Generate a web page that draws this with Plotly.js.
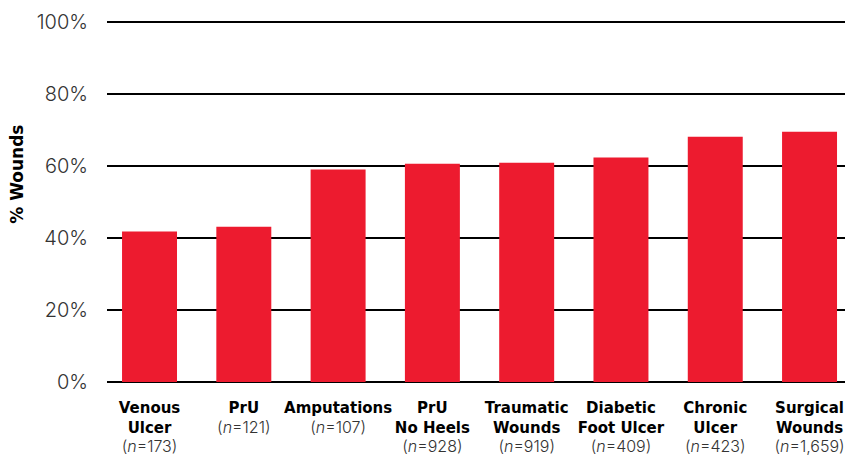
<!DOCTYPE html>
<html>
<head>
<meta charset="utf-8">
<script src="https://cdn.plot.ly/plotly-3.0.1.min.js"></script>
<style>html,body{margin:0;padding:0;background:#fff;}#chart{width:845px;height:459px;}</style>
</head>
<body>
<div id="chart"></div>
<script>
var categories = ["Venous<br>Ulcer", "PrU", "Amputations", "PrU<br>No Heels", "Traumatic<br>Wounds", "Diabetic<br>Foot Ulcer", "Chronic<br>Ulcer", "Surgical<br>Wounds"];
var sampleSizes = ["173", "121", "107", "928", "919", "409", "423", "1,659"];
var percentWounds = [41.8, 43.1, 59.0, 60.6, 60.9, 62.3, 68.1, 69.5];
var yTicks = [0, 20, 40, 60, 80, 100];
var yTickLabels = ["0%", "20%", "40%", "60%", "80%", "100%"];

var tickText = categories.map(function (c, i) {
  var name = c.split("<br>").map(function (p) { return "<b>" + p + "</b>"; }).join("<br>");
  return name + "<br><span style='font-family:Inter;font-weight:300;font-size:16px;color:#333'>(<i>n</i>=" + sampleSizes[i] + ")</span>";
});
var xIdx = categories.map(function (c, i) { return i; });

var data = [{
  type: "bar",
  x: xIdx,
  y: percentWounds,
  marker: { color: "#ED1B2F" },
  hoverinfo: "none"
}];

var layout = {
  width: 845, height: 459,
  margin: { l: 107, r: 0, t: 20.2, b: 77 },
  paper_bgcolor: "#fff", plot_bgcolor: "#fff",
  bargap: 0.417,
  showlegend: false,
  font: { family: "DejaVu Sans, sans-serif", color: "#000" },
  xaxis: {
    range: [-0.451, 7.376],
    tickmode: "array", tickvals: xIdx, ticktext: tickText,
    tickfont: { size: 15, color: "#000", family: "DejaVu Sans, sans-serif" },
    showgrid: false, showline: false, zeroline: false, ticks: "",
    ticklabelstandoff: 15,
    automargin: false
  },
  yaxis: {
    range: [0, 100.5],
    tickmode: "array", tickvals: yTicks, ticktext: yTickLabels,
    tickfont: { size: 20, color: "#333", family: "Inter, sans-serif", weight: 300 },
    showgrid: true, gridcolor: "#000", gridwidth: 1.5,
    zeroline: true, zerolinecolor: "#000", zerolinewidth: 1.5,
    showline: false, ticks: "", ticklabelstandoff: 18,
    automargin: false
  },
  annotations: [{
    text: "<b>% Wounds</b>", textangle: -90,
    xref: "paper", yref: "paper", x: -0.122, y: 0.575,
    xanchor: "center", yanchor: "middle", showarrow: false,
    font: { size: 17, color: "#000", family: "DejaVu Sans, sans-serif" }
  }]
};

Plotly.newPlot("chart", data, layout, { displayModeBar: false, staticPlot: true });
</script>
</body>
</html>
